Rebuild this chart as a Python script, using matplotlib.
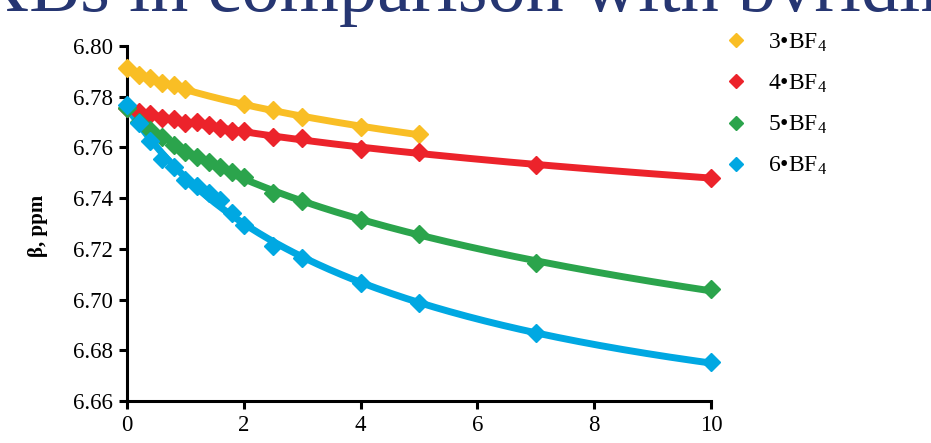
import matplotlib
matplotlib.use("Agg")
import matplotlib.pyplot as plt
from matplotlib.lines import Line2D
import numpy as np

plt.rcParams['font.family'] = ['Liberation Serif', 'DejaVu Serif']
plt.rcParams['mathtext.fontset'] = 'custom'
plt.rcParams['mathtext.rm'] = 'Liberation Serif'
plt.rcParams['mathtext.it'] = 'Liberation Serif:italic'

# concentration (x) and beta shift values
x_3 = [0, 0.2, 0.4, 0.6, 0.8, 1.0, 2.0, 2.5, 3.0, 4.0, 5.0]
y_3 = [6.7912, 6.7886, 6.7873, 6.7853, 6.7846, 6.7829, 6.7771, 6.7748, 6.7719, 6.7682, 6.7652]

x_4 = [0, 0.2, 0.4, 0.6, 0.8, 1.0, 1.2, 1.4, 1.6, 1.8, 2.0, 2.5, 3.0, 4.0, 5.0, 7.0, 10.0]
y_4 = [6.7755, 6.7740, 6.7731, 6.7718, 6.7712, 6.7695, 6.7700, 6.7688, 6.7675, 6.7666, 6.7664,
       6.7642, 6.7636, 6.7595, 6.7580, 6.7531, 6.7480]

x_5 = [0, 0.2, 0.4, 0.6, 0.8, 1.0, 1.2, 1.4, 1.6, 1.8, 2.0, 2.5, 3.0, 4.0, 5.0, 7.0, 10.0]
y_5 = [6.7755, 6.7701, 6.7669, 6.7642, 6.7610, 6.7583, 6.7563, 6.7544, 6.7524, 6.7504, 6.7485,
       6.7422, 6.7390, 6.7312, 6.7258, 6.7143, 6.7040]

x_6 = [0, 0.2, 0.4, 0.6, 0.8, 1.0, 1.2, 1.4, 1.6, 1.8, 2.0, 2.5, 3.0, 4.0, 5.0, 7.0, 10.0]
y_6 = [6.7768, 6.7696, 6.7625, 6.7554, 6.7523, 6.7470, 6.7448, 6.7420, 6.7393, 6.7341, 6.7294,
       6.7211, 6.7164, 6.7065, 6.6988, 6.6868, 6.6752]

labels = ['3•BF$_4$', '4•BF$_4$', '5•BF$_4$', '6•BF$_4$']
colors = ['#F9BE25', '#EC232B', '#2BA44C', '#00A8E2']
series = [(x_3, y_3), (x_4, y_4), (x_5, y_5), (x_6, y_6)]


# smooth trend curve through a series (cubic in log(1+x))
def trend(x, y):
    x = np.asarray(x, float)
    t = np.log1p(x)
    c = np.polyfit(t, y, 3)
    xs = np.linspace(0, x.max(), 200)
    return xs, np.polyval(c, np.log1p(xs))


fig = plt.figure(figsize=(9.31, 4.43), dpi=100)
ax = fig.add_axes([127 / 931, 42 / 443, 584 / 931, 355 / 443])

for (x, y), col in zip(series, colors):
    xs, ys = trend(x, y)
    ax.plot(xs, ys, color=col, lw=5, solid_capstyle='butt', clip_on=False, zorder=2)
    ax.plot(x, y, ls='', marker='D', ms=9, color=col, mec=col, clip_on=False, zorder=3)

ax.set_xlim(0, 10)
ax.set_ylim(6.66, 6.80)
ax.set_xticks(np.arange(0, 11, 2))
ax.set_yticks(np.arange(6.66, 6.801, 0.02))
ax.set_yticklabels([f'{v:.2f}' for v in np.arange(6.66, 6.801, 0.02)])
for s in ['top', 'right']:
    ax.spines[s].set_visible(False)
for s in ['left', 'bottom']:
    ax.spines[s].set_linewidth(2.2)
ax.tick_params(direction='out', length=6, width=2.2, labelsize=16.5, pad=4)

fig.text(38 / 931, 1 - 226 / 443, 'β, ppm', rotation=90, fontsize=15, fontweight='bold',
         ha='center', va='center')

# title of the slide, cut off at the top edge
fig.text(-26 / 931, 1 - 11 / 443, 'XBs in comparison with bvridina', fontsize=55,
         color='#263672', ha='left', va='baseline')

handles = [Line2D([], [], ls='', marker='D', ms=7, color=c) for c in colors]
fig.legend(handles, labels, loc='upper left', bbox_to_anchor=(715 / 931, 1 - 22 / 443),
           frameon=False, fontsize=17, labelspacing=0.8, handlelength=1.0,
           handletextpad=0.85, borderaxespad=0)

fig.savefig('out.png', dpi=100)
